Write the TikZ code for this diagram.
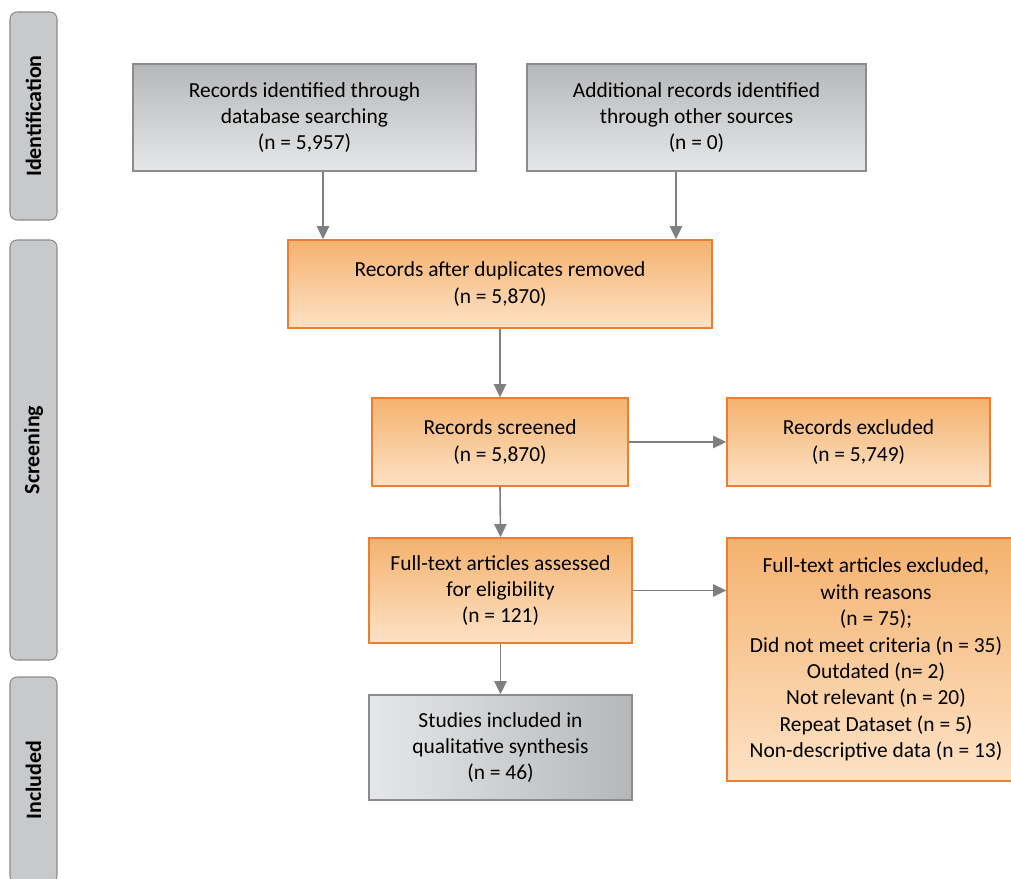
\documentclass[tikz,border=0pt]{standalone}
\usepackage{fontspec}
\setmainfont{Carlito}
\usepackage{tikz}
\usetikzlibrary{calc, positioning, arrows.meta}

\definecolor{grayline}{HTML}{8C8C8E}
\definecolor{graydark}{HTML}{B6B7B9}
\definecolor{graylight}{HTML}{E6E7E8}
\definecolor{orangeline}{HTML}{ED7D31}
\definecolor{orangedark}{HTML}{F4B26E}
\definecolor{orangelight}{HTML}{FDE2C6}
\definecolor{stagefill}{HTML}{C8C9CB}
\definecolor{arrowgray}{HTML}{7F7F80}

\begin{document}
\begin{tikzpicture}[
    >={Triangle[length=7.5pt, width=7pt]},
    font=\fontsize{12.2}{15}\selectfont,
    graybox/.style={draw=grayline, line width=0.8pt, top color=graydark, bottom color=graylight, align=center, inner sep=0pt},
    orangebox/.style={draw=orangeline, line width=0.8pt, top color=orangedark, bottom color=orangelight, align=center, inner sep=0pt},
    stage/.style={draw=grayline, line width=0.6pt, fill=stagefill, rounded corners=4pt, minimum width=0.94cm, font=\fontsize{12.5}{15}\selectfont\bfseries},
    arr/.style={->, draw=arrowgray, fill=arrowgray, line width=0.9pt}
]

    \useasboundingbox (0,0) rectangle (20.22,-17.58);
    \clip (0,0) rectangle (20.22,-17.58);

    % Stages
    \node[stage, minimum height=4.16cm] (ident) at (0.67,-2.32) {\rotatebox{90}{Identification}};
    \node[stage, minimum height=8.40cm] (screen) at (0.67,-9.00) {\rotatebox{90}{Screening}};
    \node[stage, minimum height=4.12cm] (incl) at (0.67,-15.60) {\rotatebox{90}{Included}};

    % Identification
    \node[graybox, minimum width=6.86cm, minimum height=2.14cm] (rec_db) at (6.09,-2.35)
        {Records identified through\\database searching\\(n = 5,957)};
    \node[graybox, minimum width=6.78cm, minimum height=2.14cm] (rec_other) at (13.93,-2.35)
        {Additional records identified\\through other sources\\(n = 0)};

    % Screening
    \node[orangebox, minimum width=8.48cm, minimum height=1.76cm] (dup) at (10.00,-5.68)
        {Records after duplicates removed\\(n = 5,870)};
    \node[orangebox, minimum width=5.12cm, minimum height=1.76cm] (screened) at (10.00,-8.84)
        {Records screened\\(n = 5,870)};
    \node[orangebox, minimum width=5.26cm, minimum height=1.76cm] (excluded) at (17.17,-8.84)
        {Records excluded\\(n = 5,749)};
    \node[orangebox, minimum width=5.26cm, minimum height=2.10cm] (fulltext) at (10.01,-11.81)
        {Full-text articles assessed\\for eligibility\\(n = 121)};
    \node[orangebox, minimum width=5.96cm, minimum height=4.86cm] (ft_excl) at (17.52,-13.19)
        {Full-text articles excluded,\\with reasons\\(n = 75);\\Did not meet criteria (n = 35)\\Outdated (n= 2)\\Not relevant (n = 20)\\Repeat Dataset (n = 5)\\Non-descriptive data (n = 13)};

    % Included
    \node[graybox, left color=graylight, right color=graydark, minimum width=5.26cm, minimum height=2.10cm] (studies) at (10.01,-14.95)
        {Studies included in\\qualitative synthesis\\(n = 46)};

    % Connections
    \draw[arr] ([xshift=0.37cm]rec_db.south) -- ([xshift=0.37cm]rec_db.south |- dup.north);
    \draw[arr] ([xshift=-0.41cm]rec_other.south) -- ([xshift=-0.41cm]rec_other.south |- dup.north);
    \draw[arr] (dup.south) -- (screened.north);
    \draw[arr] (screened.east) -- (excluded.west);
    \draw[arr] (screened.south) -- (fulltext.north);
    \draw[arr] (fulltext.east) -- (fulltext.east -| ft_excl.west);
    \draw[arr] (fulltext.south) -- (studies.north);

\end{tikzpicture}
\end{document}
